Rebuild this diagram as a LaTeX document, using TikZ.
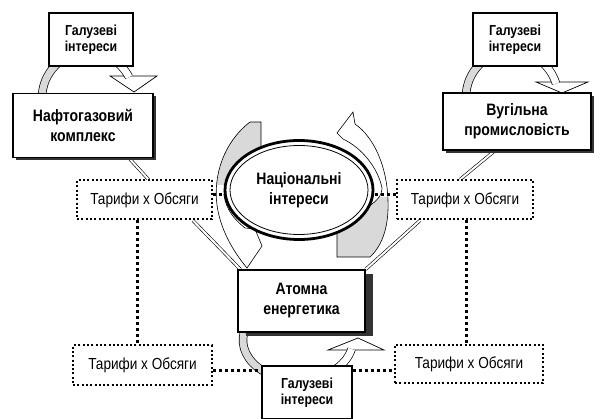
\documentclass[tikz,border=0pt]{standalone}
\usepackage{fontspec}
\setmainfont{Liberation Sans}
\newfontfamily\narrowsans[FakeStretch=0.85]{Liberation Sans}
\usetikzlibrary{positioning, calc, shadows, shapes.geometric}
\pgfdeclarelayer{background}
\pgfsetlayers{background,main}

\tikzset{
  mainbox/.style={draw, line width=1.2pt, fill=white, align=center, inner sep=0pt,
    font=\narrowsans\bfseries\fontsize{16.5}{20}\selectfont},
  darkshadow/.style={drop shadow={shadow xshift=3pt, shadow yshift=-3pt, fill=black!80, opacity=1}},
  interestbox/.style={draw, line width=1.2pt, fill=white, align=center, inner sep=0pt,
    minimum width=84pt, minimum height=53pt, font=\narrowsans\bfseries\fontsize{14.5}{16}\selectfont},
  tariffbox/.style={draw, line width=2pt, dash pattern=on 2pt off 2.3pt, fill=white,
    inner sep=0pt, minimum height=39pt, font=\narrowsans\fontsize{16}{16}\selectfont},
  dotlink/.style={line width=3pt, dash pattern=on 3pt off 3pt},
  twinlink/.style={double, double distance=2pt, line width=0.6pt},
  loopband/.style={line width=0.7pt, double distance=7pt},
  openhead/.style={draw, line width=0.7pt, fill=white},
  swirl/.style={draw, line width=0.6pt, fill=white},
}

\begin{document}
\begin{tikzpicture}[x=1pt, y=1pt]
\useasboundingbox (0,0) rectangle (602,-419);
\clip (0,0) rectangle (602,-419);

% sectors
\node[mainbox, darkshadow, minimum width=140pt, minimum height=64pt] (naft) at (83,-125.5) {Нафтогазовий\\комплекс};
\node[mainbox, darkshadow, minimum width=148pt, minimum height=57pt] (vug) at (517,-121.5) {Вугільна\\промисловість};
\node[mainbox, drop shadow={shadow xshift=8pt, shadow yshift=-4pt, fill=black!80, opacity=1},
  minimum width=127pt, minimum height=62pt] (atom) at (301.5,-301) {Атомна\\енергетика};

% branch interests
\node[interestbox] (gi1) at (91,-39.5) {Галузеві\\інтереси};
\node[interestbox] (gi2) at (515,-39.5) {Галузеві\\інтереси};
\node[interestbox, minimum width=90pt] (gi3) at (307,-392.5) {Галузеві\\інтереси};

% national interests
\node[ellipse, draw, line width=2.8pt, fill=white, minimum width=148pt, minimum height=99pt,
  align=center, inner sep=0pt, font=\narrowsans\bfseries\fontsize{16.5}{20}\selectfont] (nat) at (299,-190) {Національні\\інтереси};
\draw[line width=0.8pt] (nat.center) ellipse[x radius=69, y radius=44.5];

% tariffs
\node[tariffbox, minimum width=135pt] (t1) at (144.5,-200) {Тарифи х Обсяги};
\node[tariffbox, minimum width=136pt] (t2) at (465,-200) {Тарифи х Обсяги};
\node[tariffbox, minimum width=139pt] (t3) at (142.5,-365) {Тарифи х Обсяги};
\node[tariffbox, minimum width=148pt, minimum height=38pt] (t4) at (469,-364) {Тарифи х Обсяги};

\begin{pgfonlayer}{background}
% solid links
\draw[twinlink, double distance=2.5pt] (naft.east |- vug.west) -- (vug.west);
\draw[twinlink] ([xshift=46pt]naft.south) -- ([xshift=4pt]t1.north);
\draw[twinlink] ([xshift=48.5pt]t1.south) -- ([xshift=3pt]atom.north west);
\draw[twinlink] ([xshift=-22pt]vug.south) -- ([xshift=-5pt]t2.north);
\draw[twinlink] ([xshift=-45pt]t2.south) -- (atom.north east);

% loops to the branch interests
\draw[openhead] (110,-76) -- (157,-76) -- (134,-92) -- cycle;
\draw[loopband, double=gray!30] (42,-98) arc[start angle=180, end angle=90, radius=46];
\draw[loopband, double=white] (88,-52) arc[start angle=90, end angle=27, radius=46];

\draw[openhead] (536,-82) -- (588,-82) -- (562,-93) -- cycle;
\draw[loopband, double=gray!30] (466,-97) arc[start angle=180, end angle=90, radius=46];
\draw[loopband, double=white] (512,-51) arc[start angle=90, end angle=17, radius=46];

\draw[openhead] (328,-350) -- (384,-350) -- (358,-338) -- cycle;
\draw[loopband, double=gray!30] (243.8,-333.1) arc[start angle=170, end angle=270, x radius=55, y radius=40];
\draw[loopband, double=white] (298,-380) arc[start angle=270, end angle=347, x radius=55, y radius=40];

% arrows round the national interests
\path[swirl, path picture={\fill[gray!30] (path picture bounding box.north west) rectangle ([yshift=-63pt]path picture bounding box.north east);}]
  (250,-122) .. controls (224,-142) and (213,-175) .. (217,-205)
  .. controls (220,-228) and (232,-250) .. (247,-268) -- (262,-246) -- (255,-229) -- (245,-228)
  .. controls (235,-220) and (226,-210) .. (224,-195)
  .. controls (224,-175) and (240,-158) .. (261,-148) -- (261,-122) -- cycle;
\path[swirl, path picture={\fill[gray!30] (path picture bounding box.south west) rectangle ([yshift=60pt]path picture bounding box.south east);}]
  (337,-232) -- (337,-257) -- (370,-257) .. controls (383,-245) and (389,-225) .. (388,-200)
  .. controls (387,-168) and (375,-138) .. (355,-124) -- (353,-112) -- (337,-133) -- (343,-139)
  .. controls (362,-148) and (378,-168) .. (382,-188)
  .. controls (382,-196) and (376,-202) .. (366,-208) -- (337,-222) -- cycle;

% dotted links
\draw[dotlink] ([yshift=5pt]t1.east) -- ([yshift=5pt]t1.east -| nat.west);
\draw[dotlink] ([yshift=5pt]t2.west) -- ([yshift=5pt]t2.west -| nat.east);
\draw[dotlink] ([xshift=-7.5pt]t1.south) -- ([xshift=-7.5pt]t1.south |- t3.north);
\draw[dotlink] ([xshift=1.5pt]t2.south) -- ([xshift=1.5pt]t2.south |- t4.north);
\draw[dotlink] ([yshift=-5pt]t3.east) -- ([yshift=-5pt]t3.east -| gi3.west);
\draw[dotlink] ([yshift=-5pt]t3.east -| gi3.east) -- ([yshift=-5pt]t3.east -| t4.west);
\end{pgfonlayer}
\end{tikzpicture}
\end{document}
